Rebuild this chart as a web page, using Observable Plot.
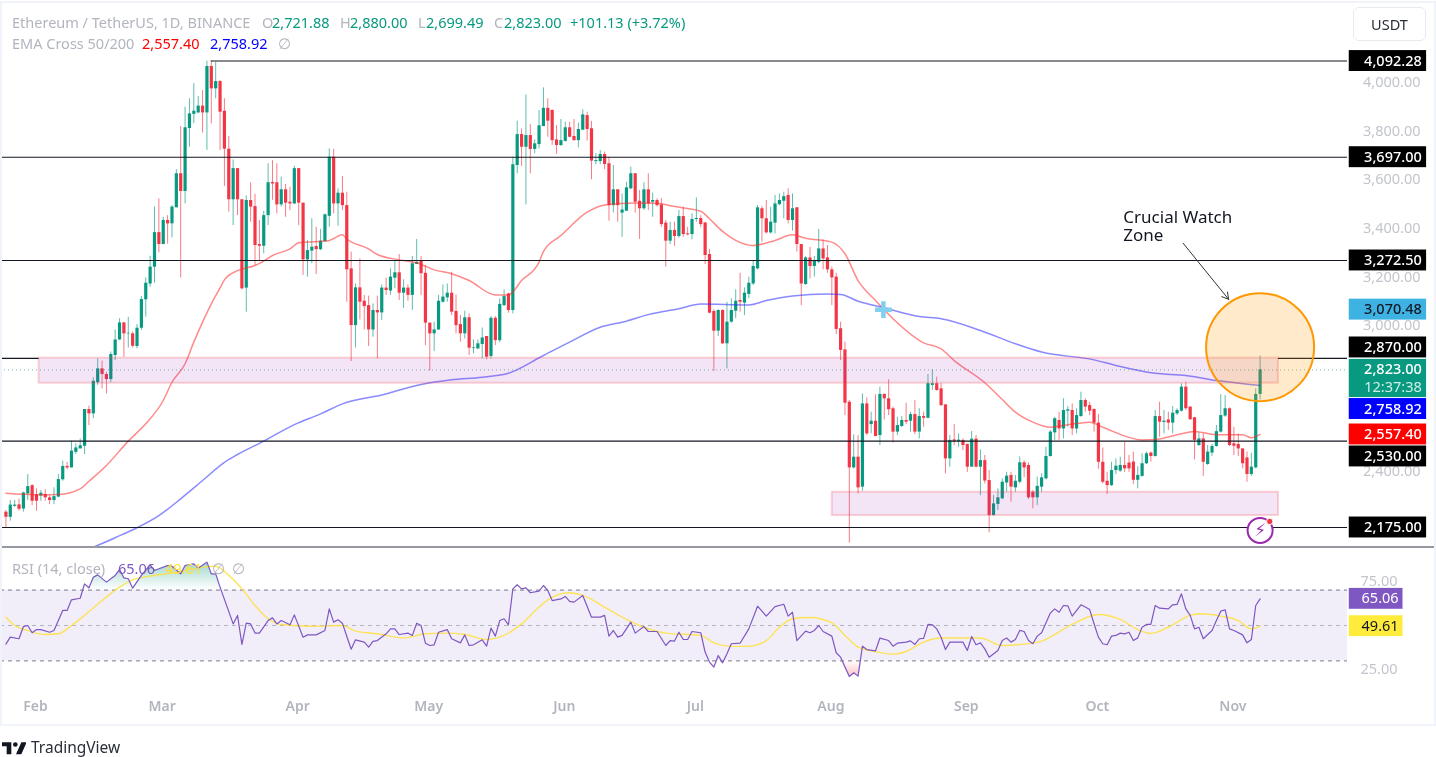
<!DOCTYPE html>
<html><head><meta charset="utf-8">
<script src="https://cdn.jsdelivr.net/npm/d3@7"></script>
<script src="https://cdn.jsdelivr.net/npm/@observablehq/plot@0.6"></script>
<style>
html,body{margin:0;padding:0;background:#fff;overflow:hidden}
#root{position:relative;width:1436px;height:757px;font-family:"Noto Sans",sans-serif;overflow:hidden;filter:blur(.35px)}
#frame{position:absolute;left:0;top:1px;width:1432px;height:721px;border:2px solid #f0f3fa;pointer-events:none}
#main,#rsi{position:absolute;left:0}
#main{top:0}#rsi{top:548px}
#main svg,#rsi svg{display:block;overflow:visible}
.t{position:absolute;font-size:14.5px;line-height:18px;white-space:pre;color:#b2b5be}
#usdt{position:absolute;left:1353px;top:7px;width:71px;height:32px;border:1.5px solid #e8eaf0;border-radius:6px;text-align:center;line-height:32px;font-size:14.5px;color:#2a2e39}
#sep{position:absolute;left:2px;top:546px;width:1432px;height:2px;background:#9598a1}
#logo{position:absolute;left:2px;top:740px}
#tv{position:absolute;left:31px;top:737px;font-size:15.5px;line-height:20px;color:#2a2e39}
</style></head><body>
<div id="root">
<div id="main"></div><div id="rsi"></div><div id="sep"></div><div id="frame"></div><div id="usdt">USDT</div>
<svg id="logo" width="24" height="15" viewBox="0 0 36 22"><path fill="#131722" d="M14 3H0v6h7v12h7V3Zm15 18h-8l8-18h8l-8 18ZM20 10a3.5 3.5 0 1 0 0-7 3.5 3.5 0 0 0 0 7Z"/></svg>
<div id="tv">TradingView</div>
</div>
<script>
const opens=[
2238,2217,2262,2268,2251,2313,2347,2310,2304,2311,
2297,2286,2300,2371,2426,2420,2484,2498,2509,2660,
2642,2770,2827,2804,2783,2882,2946,3016,2971,2971,
2919,2994,3111,3176,3245,3387,3338,3437,3423,3489,
3629,3556,3815,3873,3879,3907,3879,4070,3978,4008,
3886,3730,3522,3650,3522,3159,3519,3494,3338,3331,
3457,3593,3592,3501,3563,3512,3505,3650,3508,3275,
3311,3330,3317,3350,3454,3697,3505,3549,3498,3238,
3005,3160,3105,3087,2987,3067,3057,3159,3147,3200,
3222,3138,3159,3129,3256,3270,3220,3015,2971,2987,
3101,3119,3138,3063,3009,2971,3037,2910,2909,2927,
2960,2878,3035,2943,3087,3135,3067,3663,3790,3738,
3786,3729,3749,3823,3898,3889,3768,3745,3762,3818,
3782,3765,3808,3868,3814,3679,3679,3708,3670,3498,
3563,3467,3475,3567,3629,3516,3485,3563,3512,3519,
3501,3426,3352,3396,3371,3453,3382,3379,3441,3445,
3427,3297,3063,2982,3067,2930,3019,3064,3108,3097,
3133,3176,3238,3485,3444,3386,3426,3502,3516,3540,
3437,3489,3338,3174,3283,3248,3265,3320,3283,3234,
3204,2992,2905,2690,2420,2464,2341,2683,2598,2612,
2553,2722,2704,2663,2567,2590,2615,2612,2639,2567,
2631,2624,2759,2766,2745,2679,2457,2535,2528,2533,
2516,2423,2538,2423,2450,2368,2224,2270,2293,2358,
2389,2338,2361,2441,2430,2320,2297,2341,2375,2467,
2564,2615,2580,2653,2656,2580,2631,2697,2676,2660,
2604,2443,2365,2347,2409,2407,2430,2440,2444,2369,
2385,2437,2481,2467,2631,2607,2617,2604,2642,2653,
2752,2670,2626,2512,2539,2434,2481,2508,2567,2633,
2663,2519,2516,2498,2461,2393,2420,2722];
const highs=[
2245,2286,2286,2292,2320,2393,2351,2334,2327,2330,
2306,2338,2393,2448,2443,2530,2519,2539,2660,2674,
2790,2868,2859,2813,2896,2987,3033,3016,3039,2978,
3009,3124,3201,3290,3492,3526,3450,3457,3498,3646,
3823,3903,3937,3999,3946,3971,4092,4094,4087,4012,
3937,3782,3686,3650,3522,3538,3592,3544,3437,3474,
3670,3683,3670,3615,3585,3574,3660,3650,3508,3354,
3444,3409,3400,3464,3731,3729,3567,3618,3553,3307,
3176,3279,3129,3126,3094,3126,3172,3200,3238,3268,
3297,3193,3172,3289,3359,3289,3252,3015,3019,3129,
3172,3176,3224,3131,3046,3064,3053,2946,2946,2995,
2960,3042,3042,3115,3152,3138,3697,3845,3813,3953,
3831,3768,3889,3982,3937,3892,3827,3852,3841,3841,
3852,3837,3892,3882,3844,3711,3724,3718,3697,3663,
3563,3546,3594,3656,3629,3560,3592,3629,3549,3526,
3526,3437,3430,3430,3478,3492,3409,3464,3530,3457,
3427,3318,3070,3070,3070,3101,3115,3152,3220,3160,
3204,3270,3498,3494,3519,3491,3540,3546,3553,3567,
3546,3489,3338,3289,3327,3289,3400,3357,3334,3245,
3220,3019,2937,2697,2556,2553,2724,2708,2649,2720,
2752,2724,2782,2670,2628,2631,2686,2649,2697,2663,
2649,2804,2823,2793,2766,2680,2553,2598,2560,2539,
2519,2570,2553,2494,2471,2409,2306,2334,2375,2402,
2402,2389,2465,2450,2440,2327,2382,2396,2505,2574,
2628,2649,2704,2672,2683,2663,2731,2704,2690,2663,
2640,2502,2402,2443,2457,2464,2526,2471,2485,2425,
2478,2485,2485,2656,2690,2656,2649,2672,2663,2766,
2772,2670,2628,2563,2560,2512,2516,2594,2721,2717,
2667,2587,2560,2498,2485,2480,2745,2880];
const lows=[
2176,2201,2258,2242,2238,2286,2265,2242,2283,2283,
2269,2269,2297,2365,2412,2420,2475,2498,2475,2594,
2622,2759,2745,2724,2770,2861,2943,2875,2913,2913,
2909,2985,3040,3163,3179,3304,3338,3340,3365,3489,
3201,3505,3738,3834,3875,3796,3725,3834,3937,3725,
3577,3471,3416,3457,3152,3060,3430,3252,3272,3300,
3416,3520,3464,3492,3450,3477,3502,3416,3211,3204,
3259,3215,3313,3348,3409,3464,3413,3478,3101,2857,
2913,3028,2987,2919,2957,2868,3026,3129,3129,3156,
3108,3076,3105,3067,3256,3129,2923,2818,2898,2985,
3097,3101,3046,2971,2937,2950,2882,2889,2906,2868,
2864,2868,2923,2934,3083,3056,3053,3629,3659,3501,
3629,3711,3731,3823,3779,3745,3708,3741,3759,3776,
3763,3735,3807,3763,3604,3666,3666,3646,3434,3468,
3430,3368,3474,3563,3467,3359,3478,3478,3450,3492,
3409,3245,3338,3331,3364,3368,3374,3357,3430,3407,
3256,3053,2816,2960,2927,2827,3015,3033,3060,3046,
3115,3170,3234,3348,3382,3381,3382,3498,3444,3423,
3393,3307,3087,3170,3197,3204,3259,3234,3220,3087,
2968,2861,2635,2111,2416,2313,2324,2553,2560,2549,
2512,2617,2635,2522,2553,2587,2598,2567,2557,2539,
2587,2622,2738,2735,2672,2396,2423,2512,2505,2491,
2402,2423,2420,2306,2354,2153,2222,2245,2289,2320,
2279,2320,2354,2380,2290,2252,2265,2320,2371,2464,
2533,2533,2539,2587,2553,2560,2628,2649,2635,2567,
2414,2354,2311,2344,2393,2402,2402,2402,2352,2334,
2382,2434,2444,2464,2546,2560,2574,2560,2635,2649,
2656,2615,2453,2508,2385,2430,2467,2505,2563,2628,
2508,2471,2467,2416,2361,2385,2416,2699];
const closes=[
2217,2267,2267,2250,2317,2343,2283,2283,2316,2297,
2286,2302,2372,2426,2420,2489,2502,2511,2660,2642,
2776,2827,2804,2783,2886,2946,3016,2971,2973,2920,
2994,3112,3179,3245,3387,3338,3437,3423,3492,3629,
3556,3818,3875,3886,3907,3879,4070,3978,4008,3882,
3730,3522,3650,3522,3156,3519,3492,3334,3331,3457,
3592,3587,3501,3563,3508,3505,3650,3508,3275,3313,
3327,3317,3352,3460,3697,3505,3549,3498,3234,3005,
3160,3101,3083,2987,3067,3057,3159,3149,3204,3222,
3138,3159,3129,3259,3265,3218,3015,2971,2987,3105,
3122,3138,3060,3005,2971,3037,2912,2913,2930,2954,
2875,3035,2943,3092,3124,3067,3666,3790,3738,3786,
3729,3752,3826,3898,3845,3765,3745,3765,3818,3779,
3765,3811,3871,3811,3681,3683,3708,3667,3498,3563,
3498,3480,3571,3629,3512,3485,3563,3505,3519,3498,
3420,3352,3396,3371,3453,3379,3378,3441,3445,3420,
3293,3056,2982,3067,2930,3019,3067,3105,3101,3138,
3179,3248,3489,3444,3386,3430,3505,3519,3535,3437,
3485,3338,3176,3283,3248,3272,3320,3279,3234,3201,
2989,2903,2686,2420,2464,2338,2683,2560,2612,2549,
2722,2704,2659,2567,2594,2615,2608,2639,2567,2631,
2624,2766,2766,2738,2676,2457,2533,2528,2534,2512,
2423,2538,2423,2450,2366,2224,2272,2297,2361,2386,
2341,2365,2441,2420,2297,2297,2344,2379,2467,2567,
2622,2580,2656,2659,2580,2635,2697,2670,2653,2604,
2443,2361,2347,2409,2427,2430,2416,2416,2369,2389,
2437,2478,2467,2631,2608,2612,2604,2645,2656,2752,
2663,2618,2533,2539,2443,2485,2508,2569,2635,2663,
2512,2509,2498,2437,2393,2423,2722,2823];

const ema50Day=[0,7,12,17,19,23,28,32,36,38,41,43,45,47,49,50,53,57,59,61,65,67,74,77,78,83,85,90,94,98,102,106,112,115,118,122,123,127,133,137,144,149,153,159,161,164,167,171,176,180,183,189,192,195,199,203,210,214,217,224,228,231,235,239,243,248,251,260,263,268,272,277,283,285,287];
const ema50=[2316,2310,2311,2334,2365,2430,2530,2601,2697,2772,2848,2937,3019,3094,3160,3193,3231,3252,3270,3293,3320,3345,3355,3378,3361,3320,3297,3275,3263,3234,3218,3190,3131,3131,3190,3266,3309,3375,3471,3501,3509,3508,3494,3475,3444,3392,3355,3334,3355,3378,3364,3348,3300,3190,3108,3033,2934,2909,2861,2770,2701,2649,2608,2587,2597,2608,2587,2535,2537,2556,2570,2556,2556,2544,2557.4];
const ema200Day=[20,25,30,35,40,45,50,53,59,66,72,77,86,95,102,109,115,123,129,136,142,147,154,159,170,174,180,188,191,195,201,209,214,223,231,237,249,254,263,270,277,286,287];
const ema200=[2094,2133,2174,2224,2293,2368,2443,2475,2530,2598,2642,2683,2720,2763,2782,2793,2809,2882,2937,2998,3023,3050,3074,3094,3090,3108,3127,3135,3133,3105,3078,3042,3033,2985,2930,2896,2864,2841,2809,2800,2779,2761,2758.92];

const rsiDay=[0,1,3,4,5,6,7,8,10,11,13,14,15,17,18,19,20,21,23,25,26,27,28,29,31,33,34,37,38,40,41,43,44,46,47,48,49,52,53,54,55,56,57,58,60,61,62,63,65,66,68,69,71,73,74,75,76,77,79,80,82,83,84,85,87,88,89,90,92,93,94,95,96,97,98,99,101,102,104,105,106,107,109,110,111,112,113,114,115,116,117,118,119,120,122,123,124,125,127,128,129,130,132,134,136,137,138,139,140,141,143,144,146,147,149,151,152,153,154,155,156,157,159,160,161,162,163,164,165,166,168,170,172,174,176,178,179,180,181,183,184,185,186,187,189,190,191,193,194,195,196,197,199,200,202,203,204,206,207,208,209,210,211,212,213,214,215,216,219,220,221,222,223,224,225,227,228,229,230,231,232,233,234,235,236,237,239,240,241,242,243,244,246,247,248,249,250,251,252,253,254,255,256,257,258,259,260,261,262,263,264,266,267,268,269,270,271,272,273,274,276,277,278,279,280,281,283,284,285,286,287];
const rsi=[39.5,43.4,42.5,49.4,50,45.9,47.7,47.7,46.2,47.2,58.5,58.5,64.5,65.4,73.5,71.3,77.3,78.6,74.5,78.3,81.6,76.9,76.4,71.1,78.3,84.3,81.1,83.9,83.5,79.2,83.9,84.8,82.4,85.8,79.2,79.2,71.7,50.9,55.7,39.3,51.3,50.9,45.7,45.7,52.8,54.3,50.9,52.8,50.4,56,43.4,44.7,44.7,47.2,59.4,51.9,53.2,51.3,36.6,41.9,40.6,37.8,41,41.5,45.3,48.1,48.1,44.9,45.7,44.4,51.3,50,40,38.7,39.1,46.2,47.7,42.5,40.2,44.7,38.7,39.1,41.9,38.3,48.5,44,52.8,53.8,50.4,70.7,73,70.7,71.3,68.5,69.4,72.6,69.8,64.1,65,66.4,63.6,63.2,67,54.7,54.7,55.7,44,47.2,43.4,44.4,51.9,45.7,49.4,46.6,46.6,38.7,41.5,41.2,46.2,42.1,42.1,46.6,45.9,35,29.3,26.5,33,28.9,34,39.7,40,48.1,60.9,55.3,60.7,62,55.3,57.5,41.5,46.8,45.9,47.2,50,46.6,44,34.6,32.1,21.2,23.3,21.4,38.3,36.4,35.7,42.9,41.5,38.3,40,40.6,41.3,39.3,42.5,42.7,50.6,50.4,48.1,43.4,36.4,40.6,40.6,35.9,43.8,39.1,40.2,36.8,32.1,35.9,41.5,42.9,40.6,42.1,47.2,46.6,41.5,39.7,44,45.9,57,59.4,57.5,61.3,61.1,55.3,61.7,60.4,59,51,43.4,39.7,39.1,44,44.4,45.7,45.3,46.2,41.5,43,49,50.6,50.6,61.3,59.8,59.4,61.7,61.9,67.9,59.4,55.7,48.1,49,42.5,47.2,52.8,58.1,58.9,48.1,47.2,44.7,40.2,42.1,61.3,65.06];
const rsiMaDay=[0,2,5,9,12,15,18,22,26,29,33,40,45,48,51,54,57,60,63,70,77,80,85,91,96,101,105,110,114,118,122,125,129,132,137,141,146,151,159,162,166,170,174,177,180,184,189,192,195,199,203,206,210,214,218,223,228,232,237,244,250,255,259,262,266,271,273,278,282,285,287];
const rsiMa=[54.7,50,47.2,44.9,45.3,50,55.7,64.1,71.7,75.8,77.9,80.5,83,83.5,78.3,70.7,61.3,53.8,50.6,49.6,50,46.8,45.3,43,45.3,45.7,44.9,42.1,44.4,50.9,60.4,66,68.5,67,60.4,54.7,49,45.7,44.4,40.2,38.2,38.3,41.5,49,53.8,54.5,51.5,44.4,37.8,35.3,33.8,35.3,40.6,42.9,42.9,42.9,38.7,39.3,41.2,50.6,56.2,53.4,47.7,45.5,49,55.7,56.6,55.3,52.8,48.1,49.61];

const priceTicks=[4000,3800,3600,3400,3200,3000,2400];
const rsiTicks=[75,25];
const monthStarts=[[2024,1],[2024,2],[2024,3],[2024,4],[2024,5],[2024,6],[2024,7],[2024,8],[2024,9],[2024,10]];
const tagLabels=[4092.28,3697,3272.5,3070.48,2870,2758.92,2557.40,2530,2175];
const tagAt=[4092.28,3697,3272.5,3070.48,2915,2662,2557.4,2467,2175];
const tagFill=["#000","#000","#000","#3eb3e3","#000","#0000ff","#ff0000","#000","#000"];
const tagInk=["#fff","#fff","#fff","#131722","#fff","#fff","#fff","#fff","#fff"];

const t0=Date.UTC(2024,0,25);
const day=i=>new Date(t0+i*864e5);
const fmt=d3.format(",.2f");
const FONT='"Noto Sans",sans-serif';
const dayL=-1.24, dayR=307, tagL=307.4, tagR=325.1, tagText=324;
const rows=opens.map((o,i)=>({d:day(i),o,h:highs[i],l:lows[i],c:closes[i],up:closes[i]>=o}));
const zip=(a,b)=>a.map((i,k)=>({d:day(i),v:b[k]}));
const ink=d=>d.up?"#089981":"#f23645";
const tags=tagLabels.map((v,i)=>({v,at:tagAt[i],fill:tagFill[i],ink:tagInk[i]}));
const segs=[
 {y:4092.28,a:47,b:dayR},{y:3697,a:dayL,b:dayR},{y:3272.5,a:dayL,b:dayR},
 {y:2870,a:dayL,b:7.6},{y:2870,a:291.2,b:dayR},{y:2530,a:dayL,b:dayR},{y:2175,a:dayL,b:dayR}];
const zones=[{a:7.6,b:291.2,top:2871,bot:2768},{a:189.1,b:291.2,top:2320,bot:2224}];

const main=Plot.plot({
 width:1436,height:547,marginTop:0,marginLeft:0,marginBottom:0,marginRight:89,
 style:{background:"transparent",fontFamily:FONT,overflow:"visible"},
 x:{type:"utc",domain:[day(dayL),day(dayR)],range:[0,1347],axis:null},
 y:{domain:[2092.8,4341.1],range:[547,0],axis:null},
 marks:[
  Plot.axisY({anchor:"right",ticks:priceTicks,tickSize:0,tickPadding:0,textAnchor:"end",dx:73,dy:-1,
    tickFormat:fmt,fontSize:14.5,fill:"#c3c5cc",label:null}),
  Plot.ruleX(rows,{x:"d",y1:"l",y2:"h",stroke:ink,strokeWidth:1,strokeOpacity:.65}),
  Plot.ruleX(rows,{x:"d",y1:"o",y2:"c",stroke:ink,strokeWidth:3.2}),
  Plot.line(zip(ema50Day,ema50),{x:"d",y:"v",stroke:"#ff2a2a",strokeWidth:1.5,strokeOpacity:.55,curve:"monotone-x"}),
  Plot.line(zip(ema200Day,ema200),{x:"d",y:"v",stroke:"#2a2aff",strokeWidth:1.5,strokeOpacity:.55,clip:true,curve:"monotone-x"}),
  Plot.ruleY([2823],{x1:()=>day(dayL),x2:()=>day(dayR),stroke:"#089981",strokeOpacity:.6,strokeDasharray:"1 3"}),
  Plot.rect(zones,{x1:d=>day(d.a),x2:d=>day(d.b),y1:"bot",y2:"top",fill:"#9c27b0",fillOpacity:.12,stroke:"#f23645",strokeOpacity:.22,strokeWidth:2,inset:0}),
  Plot.ruleY(segs,{y:"y",x1:d=>day(d.a),x2:d=>day(d.b),stroke:"#131722",strokeWidth:1.1}),
  Plot.dot([{d:day(200.8),p:3070.48}],{x:"d",y:"p",symbol:"plus",r:5.5,stroke:"#82cfee",strokeWidth:4.5}),
  Plot.dot([{d:day(287),p:2916}],{x:"d",y:"p",r:54,fill:"#ff9800",fillOpacity:.2,stroke:"#ff9800",strokeWidth:2}),
  Plot.arrow([{a:day(269.4),b:day(279.8),p1:3343,p2:3113}],{x1:"a",y1:"p1",x2:"b",y2:"p2",stroke:"#333",strokeWidth:1,headLength:11}),
  Plot.text(["Crucial Watch\nZone"],{x:()=>day(255.7),y:()=>3478,text:d=>d,lineAnchor:"top",textAnchor:"start",fontSize:17,lineHeight:1.05,fill:"#131722"}),
  Plot.dot([{d:day(287),p:2163}],{x:"d",y:"p",r:12.5,fill:"#fff",stroke:"#9c27b0",strokeWidth:2}),
  Plot.text(["⚡"],{x:()=>day(287),y:()=>2163,text:d=>d,fontSize:17,fill:"#9c27b0",fontFamily:"DejaVu Sans"}),
  Plot.dot([{d:day(289.2),p:2200}],{x:"d",y:"p",r:3.2,fill:"#f23645",stroke:"#fff",strokeWidth:1}),
  Plot.rect(tags,{x1:()=>day(tagL),x2:()=>day(tagR),y1:d=>d.at-43,y2:d=>d.at+43,fill:"fill"}),
  Plot.rect([{}],{x1:()=>day(tagL),x2:()=>day(tagR),y1:()=>2709,y2:()=>2866,fill:"#089981"}),
  Plot.text(tags,{x:()=>day(tagText),y:"at",text:d=>fmt(d.v),fill:"ink",textAnchor:"end",fontSize:14.5,fontWeight:500}),
  Plot.text([2823],{x:()=>day(tagText),y:d=>d,text:d=>fmt(d),fill:"#fff",textAnchor:"end",fontSize:14.5,fontWeight:500}),
  Plot.text(["12:37:38"],{x:()=>day(tagText),y:()=>2750,text:d=>d,fill:"#cfeee8",textAnchor:"end",fontSize:14.5})
 ]});
document.getElementById("main").append(main);

const defs=()=>{const s=d3.create("svg:defs");
 const g=(id,c,a,b)=>{const l=s.append("linearGradient").attr("id",id).attr("x1",0).attr("x2",0).attr("y1",0).attr("y2",1);
  l.append("stop").attr("offset","0").attr("stop-color",c).attr("stop-opacity",a);
  l.append("stop").attr("offset","1").attr("stop-color",c).attr("stop-opacity",b);};
 g("ob","#089981",.4,0);g("os","#f23645",0,.3);return s.node();};
const rsiRows=zip(rsiDay,rsi);
const plotR=Plot.plot({
 width:1436,height:174,marginTop:0,marginLeft:0,marginBottom:27,marginRight:89,
 style:{background:"transparent",fontFamily:FONT,overflow:"visible"},
 x:{type:"utc",domain:[day(dayL),day(dayR)],range:[0,1347]},
 y:{domain:[10.45,93.5],range:[147,0],axis:null},
 marks:[
  defs,
  Plot.axisX({anchor:"bottom",ticks:monthStarts.map(([y,m])=>new Date(Date.UTC(y,m,1))),tickSize:0,tickPadding:6,dx:-1,tickFormat:d3.utcFormat("%b"),fontSize:14,fontWeight:600,fill:"#b2b5be",label:null}),
  Plot.axisY({anchor:"right",ticks:rsiTicks,tickSize:0,tickPadding:0,textAnchor:"end",dx:50,tickFormat:d3.format(".2f"),fontSize:14.5,fill:"#c3c5cc",label:null}),
  Plot.rect([{}],{x1:()=>day(dayL),x2:()=>day(dayR),y1:()=>30,y2:()=>70,fill:"#7e57c2",fillOpacity:.1}),
  Plot.ruleY([70,30],{x1:()=>day(dayL),x2:()=>day(dayR),stroke:"#787b86",strokeDasharray:"4 4"}),
  Plot.ruleY([50],{x1:()=>day(dayL),x2:()=>day(dayR),stroke:"#b2b5be",strokeDasharray:"4 4"}),
  Plot.areaY(rsiRows,{x:"d",y1:()=>70,y2:d=>Math.max(d.v,70),fill:"url(#ob)"}),
  Plot.areaY(rsiRows,{x:"d",y1:()=>30,y2:d=>Math.min(d.v,30),fill:"url(#os)"}),
  Plot.line(zip(rsiMaDay,rsiMa),{x:"d",y:"v",stroke:"#ffe03b",strokeWidth:1.4,strokeOpacity:.85,curve:"monotone-x"}),
  Plot.line(rsiRows,{x:"d",y:"v",stroke:"#7e57c2",strokeWidth:1.2}),
  Plot.rect([{v:65.06,fill:"#7e57c2"},{v:49.61,fill:"#ffeb3b"}],{x1:()=>day(tagL),x2:()=>day(319.7),y1:d=>d.v-5.9,y2:d=>d.v+5.9,fill:"fill"}),
  Plot.text([{v:65.06,ink:"#fff"},{v:49.61,ink:"#131722"}],{x:()=>day(318.7),y:"v",text:d=>d.v.toFixed(2),fill:"ink",textAnchor:"end",fontSize:14.5})
 ]});
document.getElementById("rsi").append(plotR);

const root=document.getElementById("root");
const put=(x,y,s,c)=>{const e=document.createElement("div");e.className="t";e.style.left=x+"px";e.style.top=(y-9)+"px";if(c)e.style.color=c;e.textContent=s;root.append(e);};
const G="#089981";
put(12,22,"Ethereum / TetherUS, 1D, BINANCE");
put(262,22,"O");put(272,22,"2,721.88",G);put(340,22,"H");put(350,22,"2,880.00",G);
put(418,22,"L");put(426,22,"2,699.49",G);put(494,22,"C");put(504,22,"2,823.00",G);put(570,22,"+101.13 (+3.72%)",G);
put(12,43,"EMA Cross 50/200");put(142,43,"2,557.40","#ff0000");put(210,43,"2,758.92","#0000ff");put(278,43,"∅");
put(12,568,"RSI (14, close)");put(118,568,"65.06","#7e57c2");put(165,568,"49.61","#ffe03b");put(212,568,"∅");put(232,568,"∅");
</script>
</body></html>
